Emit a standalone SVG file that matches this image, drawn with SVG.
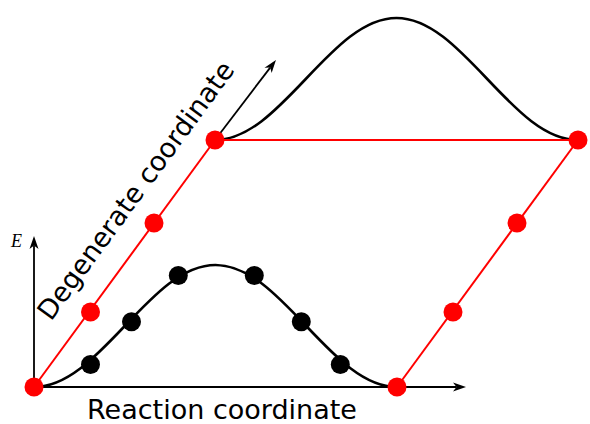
<svg xmlns="http://www.w3.org/2000/svg" width="590" height="424" viewBox="0 0 590 424">
  <defs>
    <marker id="arr" viewBox="-14 -6 16 12" markerWidth="16" markerHeight="12" refX="-9.5" refY="0" orient="auto" markerUnits="userSpaceOnUse">
      <path d="M0,0 L-13,-4.5 L-9.5,0 L-13,4.5 Z" fill="#000"/>
    </marker>
    <path id="bell" d="M34,387 C66.84,387 95.15,357.24 124.75,326 C154.34,294.76 182.65,265 215.5,265 C248.35,265 276.66,294.76 306.25,326 C335.85,357.24 364.16,387 397,387"/>
  </defs>
  <style>
    .curve { fill: none; stroke: #000; stroke-width: 2.6; }
    .axis { stroke: #000; stroke-width: 1.8; fill: none; }
    .red { stroke: #ff0000; stroke-width: 2; fill: none; }
    .rdot { fill: #ff0000; }
    .bdot { fill: #000; }
    .lbl { font-family: "DejaVu Sans", sans-serif; font-size: 27px; fill: #000; }
  </style>
  <g id="connectors">
    <use href="#bell" class="curve"/>
    <use href="#bell" class="curve" transform="translate(181,-247)"/>
    <line class="axis" x1="34" y1="387" x2="34" y2="245.5" marker-end="url(#arr)"/>
    <line class="axis" x1="34" y1="387" x2="456.5" y2="387" marker-end="url(#arr)"/>
    <line class="axis" x1="215" y1="140" x2="270.2" y2="67.6" stroke-width="1.5" marker-end="url(#arr)"/>
    <line class="red" x1="34" y1="387" x2="215" y2="140"/>
    <line class="red" x1="215" y1="140" x2="578" y2="140"/>
    <line class="red" x1="397" y1="387" x2="578" y2="140"/>
  </g>
  <g id="black-dots">
    <circle class="bdot" cx="90.5" cy="364.5" r="9.5"/>
    <circle class="bdot" cx="131.5" cy="321.7" r="9.5"/>
    <circle class="bdot" cx="178.3" cy="275.5" r="9.5"/>
    <circle class="bdot" cx="254.3" cy="275.5" r="9.5"/>
    <circle class="bdot" cx="301.3" cy="321.7" r="9.5"/>
    <circle class="bdot" cx="340.3" cy="364.5" r="9.5"/>
  </g>
  <g id="red-dots">
    <circle class="rdot" cx="34" cy="387" r="9.5"/>
    <circle class="rdot" cx="90.5" cy="312" r="9.5"/>
    <circle class="rdot" cx="154" cy="223" r="9.5"/>
    <circle class="rdot" cx="215" cy="140" r="9.5"/>
    <circle class="rdot" cx="397" cy="387" r="9.5"/>
    <circle class="rdot" cx="453" cy="312" r="9.5"/>
    <circle class="rdot" cx="517" cy="223" r="9.5"/>
    <circle class="rdot" cx="578" cy="140" r="9.5"/>
  </g>
  <g id="labels">
    <text class="lbl" x="222" y="419" text-anchor="middle">Reaction coordinate</text>
    <text class="lbl" transform="translate(51,322) rotate(-53.77)">Degenerate coordinate</text>
    <text x="11" y="247" font-family="'Liberation Serif', serif" font-style="italic" font-size="18">E</text>
  </g>
</svg>
